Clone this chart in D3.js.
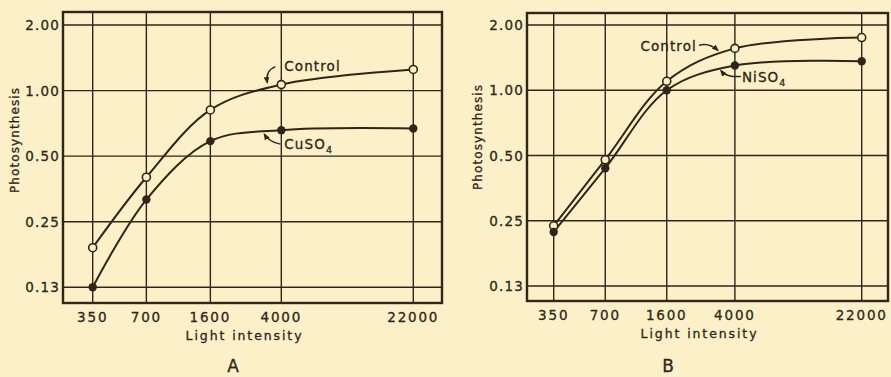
<!DOCTYPE html>
<html><head><meta charset="utf-8">
<script src="https://cdn.jsdelivr.net/npm/d3@7"></script>
<style>
html,body{margin:0;padding:0;background:#fbf0c8;}
svg{display:block;}
text{font-family:"DejaVu Sans",sans-serif;fill:#2e2618;stroke:#2e2618;stroke-width:0.3px;}
</style></head><body>
<svg id="c" width="891" height="377"></svg>
<script>
// ---- data ----
const intensities = [350, 700, 1600, 4000, 22000];
const xTickLabels = ["350", "700", "1600", "4000", "22000"];
const yTicks = [0.125, 0.25, 0.5, 1, 2];
const yTickLabels = ["0.13", "0.25", "0.50", "1.00", "2.00"];
const controlA = [0.19, 0.40, 0.815, 1.065, 1.25];
const cuso4A   = [0.125, 0.316, 0.586, 0.658, 0.670];
const controlB = [0.237, 0.478, 1.10, 1.56, 1.75];
const niso4B   = [0.222, 0.437, 1.00, 1.30, 1.36];
const panelNames = ["A", "B"];

const ink = "#2e2618";
const paper = "#fbf0c8";
const svg = d3.select("#c");

const panels = [
  {frame: {l: 63, r: 442, t: 12, b: 303}, xr: [92.7, 413.3], yr: [287.3, 25],
   ctrl: controlA, trt: cuso4A, trtName: "CuSO", ann: panelNames[0], letterX: 233, yTitleX: 15, yTitleY: 140},
  {frame: {l: 527, r: 888, t: 13, b: 301}, xr: [553.7, 861.7], yr: [286, 25],
   ctrl: controlB, trt: niso4B, trtName: "NiSO", ann: panelNames[1], letterX: 668, yTitleX: 478, yTitleY: 137}
];

svg.append("defs").append("marker")
  .attr("id", "ah").attr("viewBox", "0 0 10 10").attr("refX", 8).attr("refY", 5)
  .attr("markerWidth", 5).attr("markerHeight", 5).attr("orient", "auto-start-reverse")
  .append("path").attr("d", "M0,1 L10,5 L0,9 Z").attr("fill", ink);

panels.forEach(p => {
  const g = svg.append("g");
  const x = d3.scaleLog().domain([intensities[0], intensities[4]]).range(p.xr);
  const y = d3.scaleLog().base(2).domain([yTicks[0], yTicks[4]]).range(p.yr);
  const f = p.frame;

  // grid
  g.selectAll(".vg").data(intensities).join("line")
    .attr("x1", d => x(d)).attr("x2", d => x(d)).attr("y1", f.t).attr("y2", f.b)
    .attr("stroke", ink).attr("stroke-width", 1.4);
  g.selectAll(".hg").data(yTicks).join("line")
    .attr("y1", d => y(d)).attr("y2", d => y(d)).attr("x1", f.l).attr("x2", f.r)
    .attr("stroke", ink).attr("stroke-width", 1.4);
  // frame
  g.append("rect").attr("x", f.l).attr("y", f.t).attr("width", f.r - f.l).attr("height", f.b - f.t)
    .attr("fill", "none").attr("stroke", ink).attr("stroke-width", 2.4);

  // tick labels
  g.selectAll(".xl").data(intensities).join("text")
    .attr("x", d => x(d)).attr("y", f.b + 19).attr("text-anchor", "middle")
    .attr("font-size", 13.5).attr("letter-spacing", 1.8)
    .text((d, i) => xTickLabels[i]);
  g.selectAll(".yl").data(yTicks).join("text")
    .attr("x", f.l - 3).attr("y", d => y(d) + 5).attr("text-anchor", "end")
    .attr("font-size", 13.5).attr("letter-spacing", 1.2)
    .text((d, i) => yTickLabels[i]);

  // axis titles
  g.append("text").attr("x", (f.l + f.r) / 2 - 8).attr("y", f.b + 37).attr("text-anchor", "middle")
    .attr("font-size", 12.5).attr("letter-spacing", 1.9).text("Light intensity");
  g.append("text").attr("transform", `translate(${p.yTitleX + 4},${p.yTitleY}) rotate(-90)`)
    .attr("text-anchor", "middle").attr("font-size", 12).attr("letter-spacing", 1.1)
    .text("Photosynthesis");

  // panel letter
  g.append("text").attr("x", p.letterX).attr("y", 372).attr("text-anchor", "middle")
    .attr("font-family", "Liberation Serif, serif").attr("font-size", 17).attr("stroke-width", 0)
    .text(p.ann);

  const line = d3.line().x((d, i) => x(intensities[i])).y(d => y(d)).curve(d3.curveCatmullRom.alpha(0.5));
  [p.ctrl, p.trt].forEach(s => {
    g.append("path").attr("d", line(s)).attr("fill", "none").attr("stroke", ink).attr("stroke-width", 2);
  });
  g.selectAll(".pc").data(p.ctrl).join("circle")
    .attr("cx", (d, i) => x(intensities[i])).attr("cy", d => y(d)).attr("r", 4)
    .attr("fill", paper).attr("stroke", ink).attr("stroke-width", 1.6);
  g.selectAll(".pt").data(p.trt).join("circle")
    .attr("cx", (d, i) => x(intensities[i])).attr("cy", d => y(d)).attr("r", 4.2)
    .attr("fill", ink);

  // annotations
  const px = x(intensities[3]);
  const cy = y(p.ctrl[3]), ty = y(p.trt[3]);
  if (p.ann === "A") {
    g.append("text").attr("x", px + 3).attr("y", cy - 14).attr("font-size", 13.5).attr("letter-spacing", 1.1).text("Control");
    g.append("path").attr("d", `M${px - 6},${cy - 18} Q${px - 16},${cy - 14} ${px - 14},${cy - 2}`)
      .attr("fill", "none").attr("stroke", ink).attr("stroke-width", 1.4).attr("marker-end", "url(#ah)");
    const t = g.append("text").attr("x", px + 3).attr("y", ty + 19).attr("font-size", 13.5).attr("letter-spacing", 1.1);
    t.append("tspan").text(p.trtName);
    t.append("tspan").attr("font-size", 9.5).attr("dy", 4).text("4");
    g.append("path").attr("d", `M${px - 1},${ty + 14} Q${px - 12},${ty + 12} ${px - 17},${ty + 4}`)
      .attr("fill", "none").attr("stroke", ink).attr("stroke-width", 1.4).attr("marker-end", "url(#ah)");
  } else {
    g.append("text").attr("x", px - 38).attr("y", cy + 3).attr("text-anchor", "end")
      .attr("font-size", 13.5).attr("letter-spacing", 1.1).text("Control");
    g.append("path").attr("d", `M${px - 36},${cy - 3} Q${px - 26},${cy - 6} ${px - 17},${cy + 2}`)
      .attr("fill", "none").attr("stroke", ink).attr("stroke-width", 1.4).attr("marker-end", "url(#ah)");
    const t = g.append("text").attr("x", px + 7).attr("y", ty + 16).attr("font-size", 13.5).attr("letter-spacing", 1.1);
    t.append("tspan").text(p.trtName);
    t.append("tspan").attr("font-size", 9.5).attr("dy", 4).text("4");
    g.append("path").attr("d", `M${px + 6},${ty + 11} L${px - 2},${ty + 11} Q${px - 10},${ty + 10} ${px - 14},${ty + 5}`)
      .attr("fill", "none").attr("stroke", ink).attr("stroke-width", 1.4).attr("marker-end", "url(#ah)");
  }
});
</script>
</body></html>
